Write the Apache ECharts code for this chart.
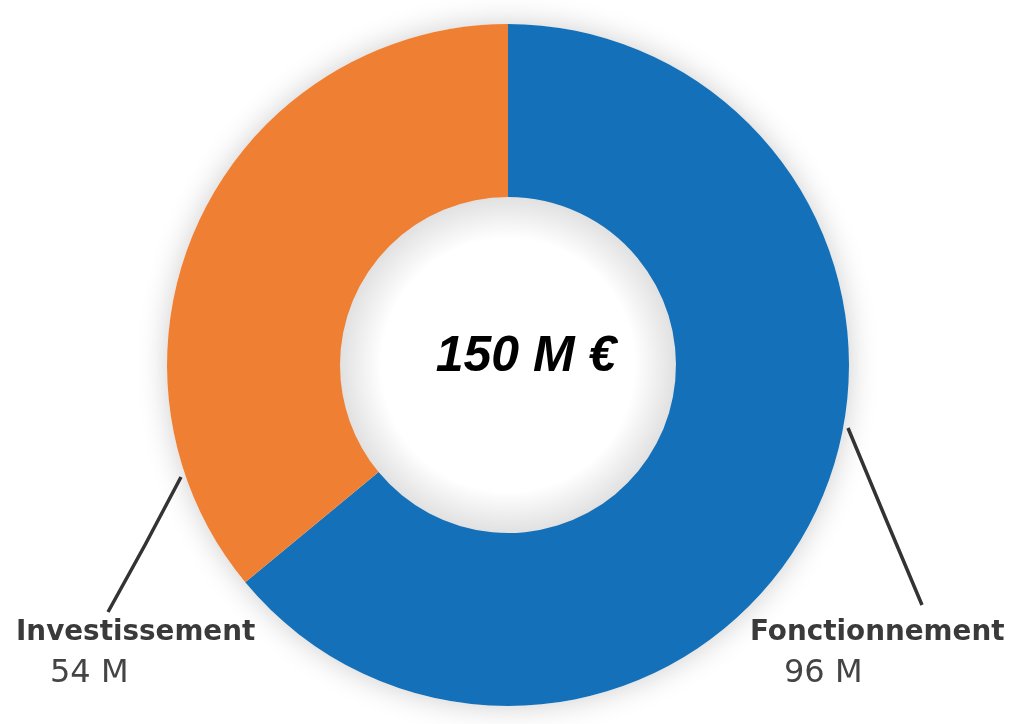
<!DOCTYPE html>
<html><head><meta charset="utf-8">
<script src="https://cdn.jsdelivr.net/npm/echarts@6/dist/echarts.min.js"></script>
<style>html,body{margin:0;padding:0;background:#fff}#c{width:1024px;height:724px}</style>
</head><body><div id="c"></div>
<script>
const categories = ['Fonctionnement', 'Investissement'];
const values = [96, 54];
const colors = ['#1470B8', '#EF7F32'];
const totalLabel = '150 M €';

const chart = echarts.init(document.getElementById('c'));
const center = [508, 365];
const labelPos = {
  0: {x: 750, y: 612, line: [[848, 428], [885, 517], [922, 605]]},
  1: {x: 16, y: 612, line: [[181, 477], [145, 545], [108, 612]]}
};
chart.setOption({
  backgroundColor: '#fff',
  title: {
    text: totalLabel, left: 521, top: 352, textAlign: 'center', textVerticalAlign: 'middle',
    textStyle: {fontFamily: 'Liberation Sans', fontWeight: 'bold', fontStyle: 'italic', fontSize: 50, color: '#000'}
  },
  series: [
    {
      type: 'pie', silent: true, center: center, radius: [168, 341], z: 1,
      label: {show: false}, labelLine: {show: false},
      itemStyle: {color: '#fff', shadowBlur: 30, shadowColor: 'rgba(0,0,0,0.2)'},
      data: [{value: 1}]
    },
    {
      type: 'pie', silent: true, center: center, radius: [0, 169], z: 1,
      label: {show: false}, labelLine: {show: false},
      itemStyle: {color: {type: 'radial', x: 0.5, y: 0.5, r: 0.5, colorStops: [
        {offset: 0, color: '#fff'}, {offset: 0.75, color: '#fff'}, {offset: 1, color: '#e0e0e0'}]}},
      data: [{value: 1}]
    },
    {
      type: 'pie', center: center, radius: [168, 341], startAngle: 90, clockwise: true, z: 2,
      avoidLabelOverlap: false,
      data: categories.map((n, i) => ({name: n, value: values[i], itemStyle: {color: colors[i]}})),
      label: {
        show: true, formatter: '{a|{b}}\n{v|{c} M}', align: 'left',
        rich: {
          a: {fontFamily: 'DejaVu Sans', fontWeight: 'bold', fontSize: 27.8, color: '#3a3a3a', lineHeight: 42},
          v: {fontFamily: 'DejaVu Sans', fontWeight: 'normal', fontSize: 32, color: '#444', lineHeight: 40, padding: [0, 0, 0, 34]}
        }
      },
      labelLine: {show: true, lineStyle: {color: '#333', width: 3.5}},
      labelLayout: function (p) {
        const l = labelPos[p.dataIndex];
        return {x: l.x, y: l.y, align: 'left', verticalAlign: 'top', labelLinePoints: l.line};
      }
    }
  ]
});
</script></body></html>
